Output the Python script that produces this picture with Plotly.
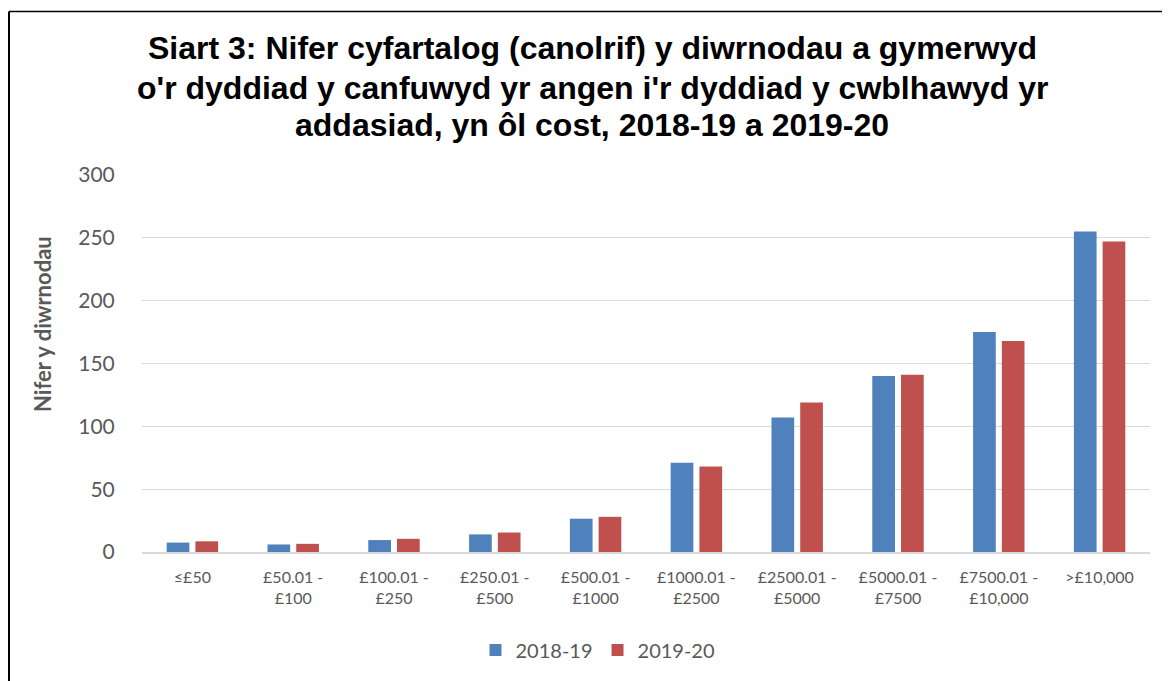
import plotly.graph_objects as go

categories = ["≤£50", "£50.01 -<br>£100", "£100.01 -<br>£250", "£250.01 -<br>£500",
              "£500.01 -<br>£1000", "£1000.01 -<br>£2500", "£2500.01 -<br>£5000",
              "£5000.01 -<br>£7500", "£7500.01 -<br>£10,000", ">£10,000"]
values_2018_19 = [7.5, 6, 9.5, 14, 26.5, 71, 107, 140, 175, 255]
values_2019_20 = [8.5, 6.5, 10.5, 15.5, 28, 68, 119, 141, 168, 247]
series_names = ["2018-19", "2019-20"]
y_ticks = [0, 50, 100, 150, 200, 250, 300]

title_lines = ["Siart 3: Nifer cyfartalog (canolrif) y diwrnodau a gymerwyd",
               "o'r dyddiad y canfuwyd yr angen i'r dyddiad y cwblhawyd yr",
               "addasiad, yn ôl cost, 2018-19 a 2019-20"]
y_title = "Nifer y diwrnodau"

fig = go.Figure()
fig.add_trace(go.Bar(x=categories, y=values_2018_19, name=series_names[0],
                     marker=dict(color="#4F81BD", line=dict(width=0))))
fig.add_trace(go.Bar(x=categories, y=values_2019_20, name=series_names[1],
                     marker=dict(color="#C0504D", line=dict(width=0))))

# page body has an 8px margin, so the figure is 8px smaller than the window
W, H = 1162, 673
L, R, T, B = 134, 20, 167, 129
pw, ph = W - L - R, H - T - B

def px_x(x):
    return (x - L) / pw

def px_y(y):
    return (H - B - y) / ph

fig.update_layout(
    width=W, height=H,
    margin=dict(l=L, r=R, t=T, b=B, autoexpand=False),
    paper_bgcolor="white", plot_bgcolor="white",
    barmode="group", bargap=0.43, bargroupgap=0.21,
    font=dict(family="Lato, Calibri", color="#595959"),
    showlegend=True,
    legend=dict(orientation="h", x=px_x(590), xanchor="center",
                y=px_y(642), yanchor="middle",
                font=dict(size=20, color="#595959"), itemwidth=30,
                traceorder="normal"),
    xaxis=dict(showgrid=False, showline=True, linecolor="#D9D9D9", linewidth=1.5,
               tickfont=dict(size=16, color="#595959"),
               ticks="outside", ticklen=10, tickcolor="rgba(0,0,0,0)"),
    yaxis=dict(range=[0, 300], tickvals=y_ticks, showgrid=True,
               gridcolor="#D9D9D9", gridwidth=1.3, zeroline=False, showline=False,
               tickfont=dict(size=21, color="#595959"),
               ticks="outside", ticklen=22, tickcolor="rgba(0,0,0,0)"),
)

title_y = [40, 80, 117]
for line, ty in zip(title_lines, title_y):
    fig.add_annotation(text="<b>" + line + "</b>", xref="paper", yref="paper",
                       x=px_x(584), y=px_y(ty), xanchor="center", yanchor="middle",
                       showarrow=False,
                       font=dict(family="Liberation Sans, Arial", size=32, color="black"))

fig.add_annotation(text="<b>" + y_title + "</b>", xref="paper", yref="paper",
                   x=px_x(34), y=px_y(316), xanchor="center", yanchor="middle",
                   textangle=-90, showarrow=False,
                   font=dict(family="Lato, Calibri", size=22, color="#595959"))

# outer chart border
x0 = px_x(1)
y1 = px_y(3.5)
fig.add_shape(type="line", xref="paper", yref="paper", x0=x0, x1=x0, y0=-1, y1=y1,
              line=dict(color="black", width=2))
fig.add_shape(type="line", xref="paper", yref="paper", x0=x0, x1=1.2, y0=y1, y1=y1,
              line=dict(color="black", width=1.5))

fig.write_html("out.html")
